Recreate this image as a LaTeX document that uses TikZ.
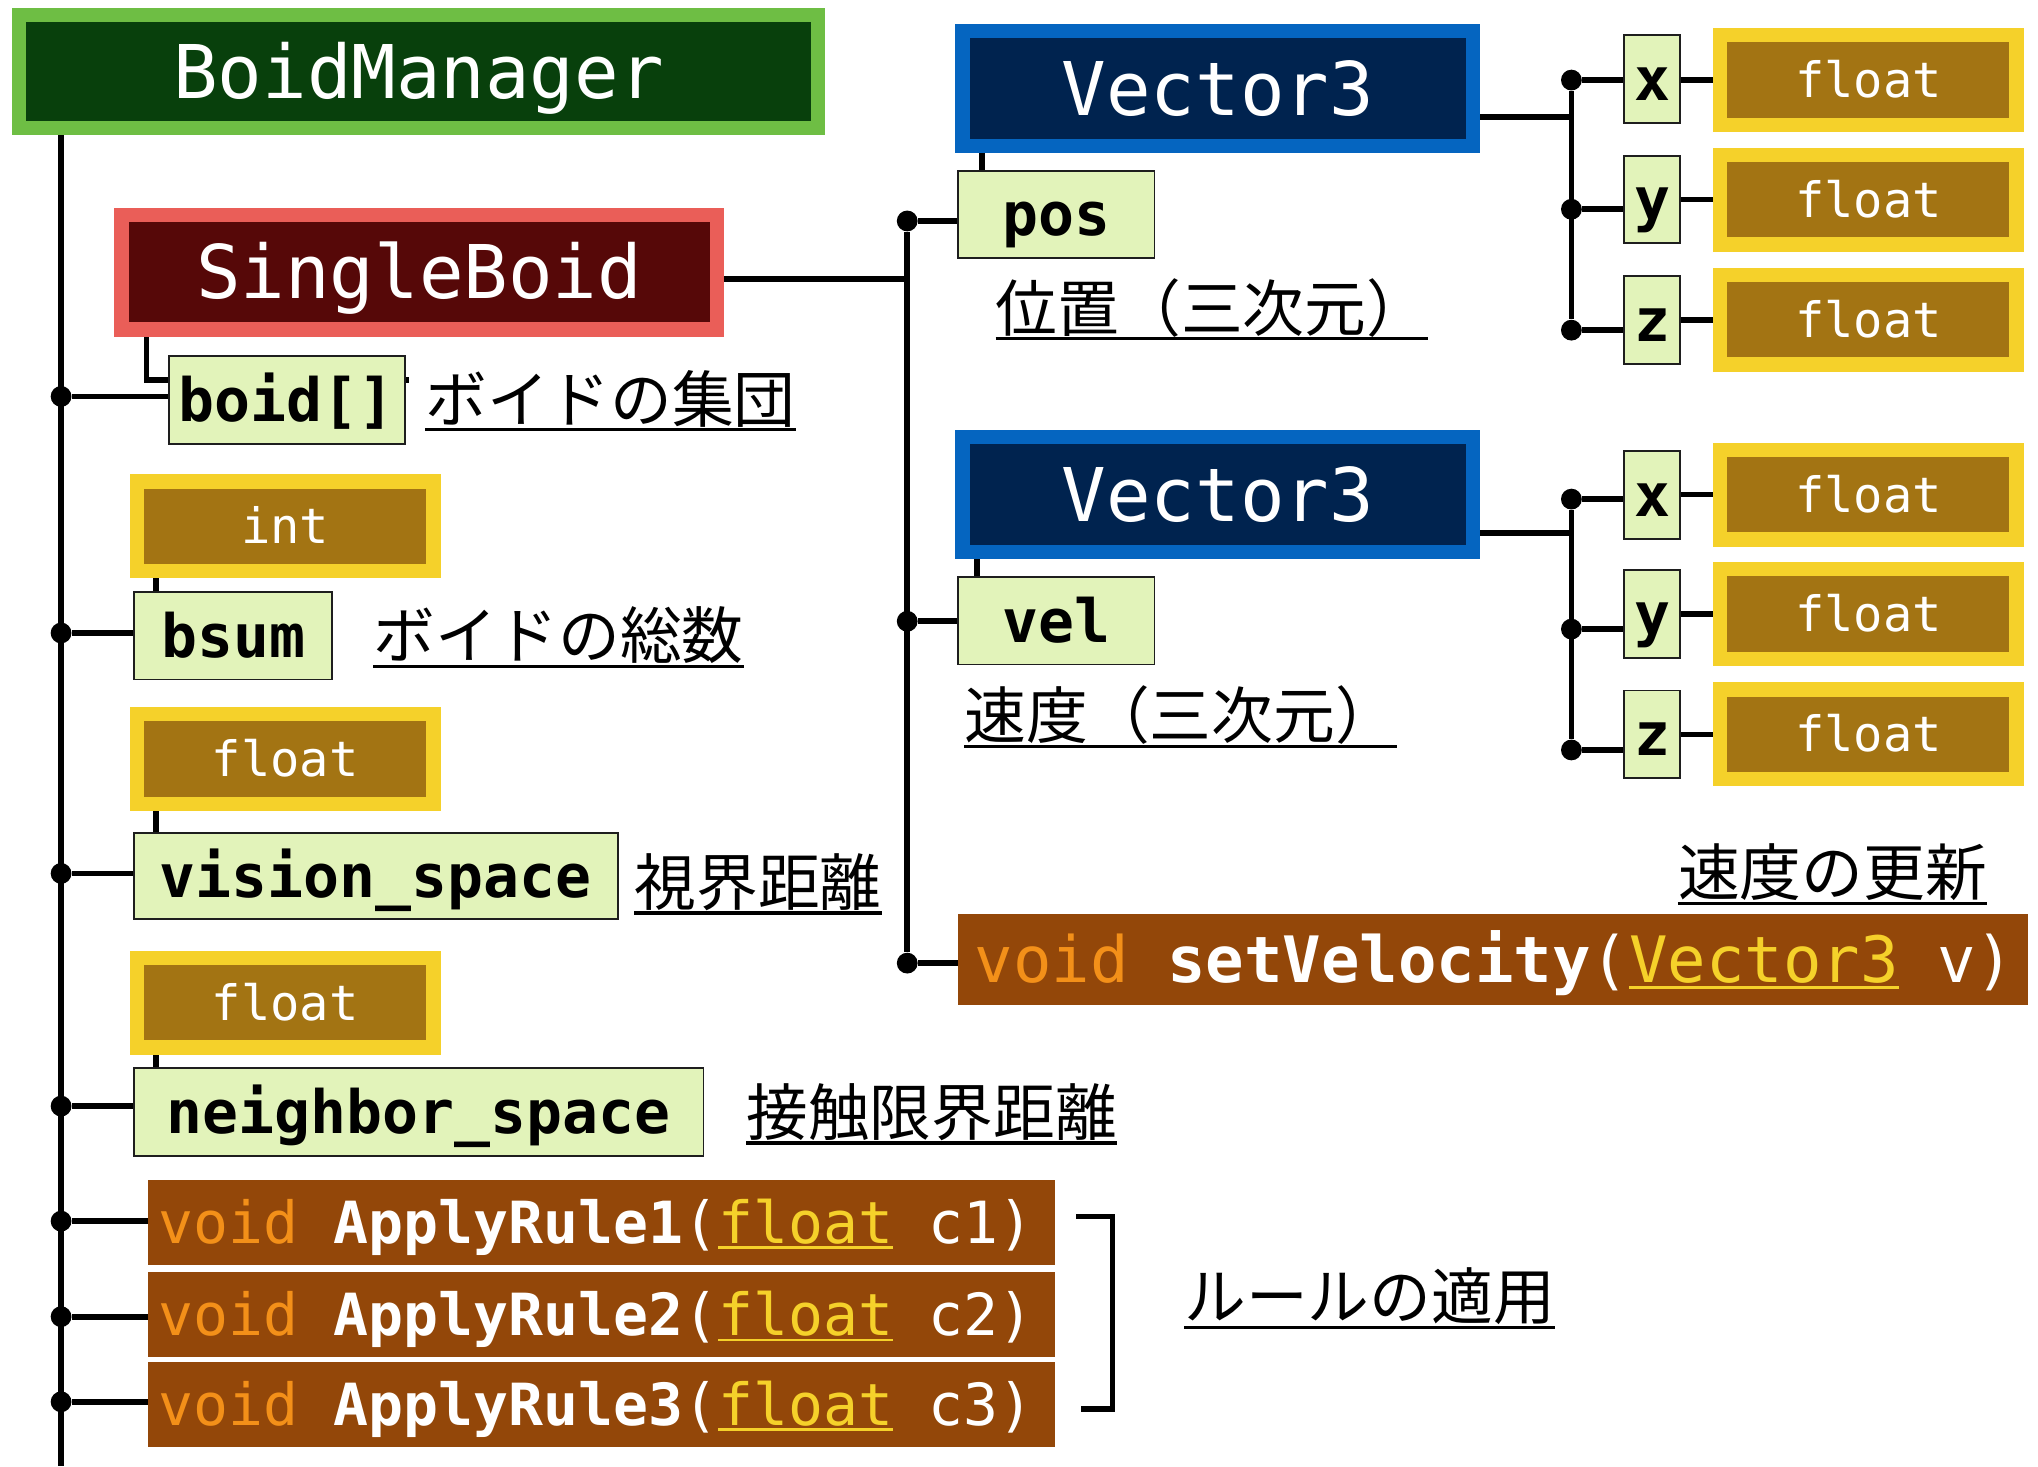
\documentclass[tikz,border=0pt]{standalone}
\usepackage{fontspec}
\setmonofont{DejaVu Sans Mono}
\newfontfamily\jpfont{Noto Sans CJK JP}
\usetikzlibrary{backgrounds}

\definecolor{mgrouter}{HTML}{6EBE44}
\definecolor{mgrinner}{HTML}{08400C}
\definecolor{sbouter}{HTML}{EA5E58}
\definecolor{sbinner}{HTML}{560808}
\definecolor{vecouter}{HTML}{0565C0}
\definecolor{vecinner}{HTML}{00234F}
\definecolor{typeouter}{HTML}{F5D12A}
\definecolor{typeinner}{HTML}{A37413}
\definecolor{fieldfill}{HTML}{E2F3BA}
\definecolor{fieldline}{HTML}{1E1E1E}
\definecolor{methfill}{HTML}{934709}
\definecolor{voidcol}{HTML}{F39019}
\definecolor{paramcol}{HTML}{F5D12A}

% return type keyword, underlined parameter type, one monospace blank
\newcommand\mvoid[1]{\textcolor{voidcol}{#1}}
\newcommand\mparam[1]{{\color{paramcol}\setbox0\hbox{#1}\rlap{\rule[-0.1em]{\wd0}{0.045em}}\box0}}
\newcommand\msp{\hspace*{0.602em}}

\begin{document}
\begin{tikzpicture}[x=1pt,y=-1pt,
  conn/.style={line width=4.4pt, black},
  uline/.style={line width=2.5pt, black},
  dot/.style={circle, fill=black, inner sep=0pt, minimum size=16pt},
  framed/.style 2 args={draw=#1, fill=#2, line width=11pt, inner sep=0pt, outer sep=0pt, text=white},
  namefont/.style={font=\ttfamily\fontsize{57}{57}\selectfont, text height=41pt, text depth=0pt},
  mgrbox/.style={framed={mgrouter}{mgrinner}, namefont},
  sbbox/.style={framed={sbouter}{sbinner}, namefont},
  vecbox/.style={framed={vecouter}{vecinner}, namefont, minimum width=393pt, minimum height=88.5pt},
  typebox/.style={framed={typeouter}{typeinner}, font=\ttfamily\fontsize{37.5}{37.5}\selectfont,
    text height=27pt, text depth=0pt, minimum width=228pt, minimum height=69pt},
  fieldbox/.style={draw=fieldline, fill=fieldfill, line width=1.5pt, inner sep=0pt, outer sep=0pt,
    text=black, font=\ttfamily\bfseries\fontsize{46}{46}\selectfont, text height=33pt, text depth=0pt},
  methbox/.style={fill=methfill, inner ysep=0pt, outer sep=0pt, text=white, align=left},
  rulebox/.style={methbox, inner xsep=8pt, text width=682pt, minimum height=65pt,
    font=\ttfamily\fontsize{44.7}{44.7}\selectfont, text height=32pt, text depth=0pt},
  jcaption/.style={inner sep=0pt, anchor=base west, font=\jpfont\fontsize{47.5}{50}\selectfont}
]
\useasboundingbox (0,0) rectangle (1568,1128);

% ---- class boxes ----
\node[mgrbox, minimum width=615pt, minimum height=87pt] (mgr) at (322,55) {BoidManager};
\node[sbbox, minimum width=458pt, minimum height=88pt] (sb) at (322.5,209.5) {SingleBoid};
\node[vecbox] (vA) at (937,68) {Vector3};
\node[vecbox] (vB) at (937,380.5) {Vector3};

% ---- members of BoidManager ----
\node[fieldbox, minimum width=181.5pt, minimum height=67.5pt] (boid) at (220.5,307.5) {boid[]};
\node[typebox] (ti) at (219.5,405) {int};
\node[fieldbox, minimum width=152.5pt, minimum height=67pt] (bsum) at (179.5,489.3) {bsum};
\node[typebox] (tv) at (219.5,584) {float};
\node[fieldbox, minimum width=372.5pt, minimum height=66.5pt] (vis) at (289,674) {vision\_space};
\node[typebox] (tn) at (219.5,771.5) {float};
\node[fieldbox, minimum width=438.5pt, minimum height=67.5pt] (nbr) at (322,855.5) {neighbor\_space};

\node[rulebox] (r1) at (463,940.5)
  {\mbox{\mvoid{void}\msp\textbf{ApplyRule1}(\mparam{float}\msp c1)}};
\node[rulebox] (r2) at (463,1011.5)
  {\mbox{\mvoid{void}\msp\textbf{ApplyRule2}(\mparam{float}\msp c2)}};
\node[rulebox] (r3) at (463,1080.5)
  {\mbox{\mvoid{void}\msp\textbf{ApplyRule3}(\mparam{float}\msp c3)}};

% ---- members of SingleBoid ----
\node[fieldbox, minimum width=151.5pt, minimum height=66.5pt] (pos) at (812.5,165) {pos};
\node[fieldbox, minimum width=151.5pt, minimum height=67.5pt] (vel) at (812.5,477.5) {vel};
\node[methbox, inner xsep=13pt, text width=797pt, minimum height=70pt,
  font=\ttfamily\fontsize{49.2}{49.2}\selectfont, text height=35.4pt, text depth=0pt] (sv) at (1148.5,738)
  {\mbox{\mvoid{void}\msp\textbf{setVelocity}(\mparam{Vector3}\msp v)}};

% ---- members of Vector3 ----
\node[fieldbox, minimum width=42.5pt, minimum height=67.5pt] (xA) at (1271,61) {x};
\node[fieldbox, minimum width=42.5pt, minimum height=67.5pt] (yA) at (1271,153.5) {y};
\node[fieldbox, minimum width=42.5pt, minimum height=67.5pt] (zA) at (1271,246) {z};
\node[typebox] (fxA) at (1437.5,61.5) {float};
\node[typebox] (fyA) at (1437.5,153.5) {float};
\node[typebox] (fzA) at (1437.5,246) {float};

\node[fieldbox, minimum width=42.5pt, minimum height=67.5pt] (xB) at (1271,381) {x};
\node[fieldbox, minimum width=42.5pt, minimum height=67.5pt] (yB) at (1271,472.5) {y};
\node[fieldbox, minimum width=42.5pt, minimum height=67.5pt] (zB) at (1271,565) {z};
\node[typebox] (fxB) at (1437.5,380.5) {float};
\node[typebox] (fyB) at (1437.5,472.5) {float};
\node[typebox] (fzB) at (1437.5,565) {float};

% ---- junction dots ----
\node[dot] (d1) at (47,305) {};
\node[dot] (d2) at (47,487) {};
\node[dot] (d3) at (47,672) {};
\node[dot] (d4) at (47,851) {};
\node[dot] (d5) at (47,939.5) {};
\node[dot] (d6) at (47,1013) {};
\node[dot] (d7) at (47,1078.5) {};
\node[dot] (p1) at (698,170) {};
\node[dot] (p2) at (698,478) {};
\node[dot] (p3) at (698,741) {};
\node[dot] (qA1) at (1209,61.6) {};
\node[dot] (qA2) at (1209,161) {};
\node[dot] (qA3) at (1209,254) {};
\node[dot] (qB1) at (1209,384) {};
\node[dot] (qB2) at (1209,484) {};
\node[dot] (qB3) at (1209,577) {};

\coordinate (trunkEnd) at (47,1128);
\coordinate (bstub) at (315,292.6);
\coordinate (brTop) at (828,936);
\coordinate (brMid) at (856,1010);
\coordinate (brBot) at (832,1084);

% ---- connectors, behind the boxes ----
\begin{pgfonlayer}{background}
  \draw[conn] (mgr.south -| d1) -- (trunkEnd);
  \foreach \d/\b in {d1/boid, d2/bsum, d3/vis, d4/nbr, d5/r1, d6/r2, d7/r3}
    \draw[conn] (\d) -- (\d -| \b.west);
  \draw[conn] ([xshift=19.3pt]sb.south west) |- (bstub);
  \draw[conn] ([xshift=14.5pt]ti.south west) -- ([xshift=14.5pt]ti.south west |- bsum.north);
  \draw[conn] ([xshift=14.5pt]tv.south west) -- ([xshift=14.5pt]tv.south west |- vis.north);
  \draw[conn] ([xshift=14.5pt]tn.south west) -- ([xshift=14.5pt]tn.south west |- nbr.north);

  \draw[conn] ([yshift=-5.3pt]sb.east) -- ([yshift=-5.3pt]sb.east -| p1);
  \draw[conn] (p1) -- (p3);
  \draw[conn] (p1) -- (p1 -| pos.west);
  \draw[conn] (p2) -- (p2 -| vel.west);
  \draw[conn] (p3) -- (p3 -| sv.west);
  \draw[conn] ([xshift=18.5pt]pos.north west) -- ([xshift=18.5pt]pos.north west |- vA.south);
  \draw[conn] ([xshift=15pt]vel.north west) -- ([xshift=15pt]vel.north west |- vB.south);

  \draw[conn] ([yshift=-22pt]vA.east) -- ([yshift=-22pt]vA.east -| qA1);
  \draw[conn] (qA1) -- (qA3);
  \draw[conn] ([yshift=-29.5pt]vB.east) -- ([yshift=-29.5pt]vB.east -| qB1);
  \draw[conn] (qB1) -- (qB3);
  \foreach \q/\v/\f in {qA1/xA/fxA, qA2/yA/fyA, qA3/zA/fzA, qB1/xB/fxB, qB2/yB/fyB, qB3/zB/fzB} {
    \draw[conn] (\q) -- (\q -| \v.west);
    \draw[conn] (\f.west -| \v.east) -- (\f.west);
  }
\end{pgfonlayer}

% bracket grouping the three rules
\draw[conn] (brTop) -| (brMid) |- (brBot);

% ---- underlined captions ----
\foreach \n/\x/\y/\t in {c1/766/254.7/位置（三次元）, c2/742/568.5/速度（三次元）, c3/1291/689/速度の更新,
    c4/327/324.7/ボイドの集団, c5/287/506.7/ボイドの総数, c6/488/696.5/視界距離,
    c7/574/873.4/接触限界距離, c8/911/1015.5/ルールの適用} {
  \node[jcaption] (\n) at (\x,\y) {\t};
  \draw[uline] ([yshift=-6pt]\n.base west) -- ([yshift=-6pt]\n.base east);
}
\end{tikzpicture}
\end{document}
